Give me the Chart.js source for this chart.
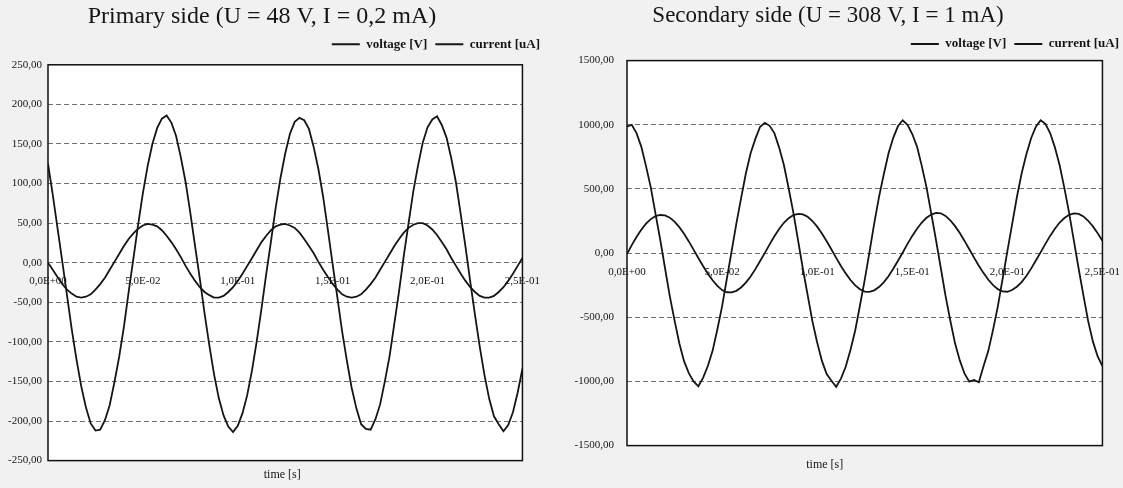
<!DOCTYPE html>
<html>
<head>
<meta charset="utf-8">
<script src="https://cdn.jsdelivr.net/npm/chart.js@4.4.1/dist/chart.umd.min.js"></script>
<style>
  html, body { margin: 0; padding: 0; background: #f1f1f1; }
  #wrap { position: relative; width: 1123px; height: 488px; overflow: hidden; }
  .box { position: absolute; top: 0; height: 488px; }
  #left { left: 0; width: 552px; }
  #right { left: 560px; width: 572px; }
</style>
</head>
<body>
<div id="wrap">
  <div class="box" id="left"><canvas id="primary"></canvas></div>
  <div class="box" id="right"><canvas id="secondary"></canvas></div>
</div>
<script>
// sample times [s], same grid for both measurements
const times = [0,0.0025,0.005,0.0075,0.01,0.0125,0.015,0.0175,0.02,0.0225,0.025,0.0275,0.03,0.0325,0.035,0.0375,0.04,0.0425,0.045,0.0475,
  0.05,0.0525,0.055,0.0575,0.06,0.0625,0.065,0.0675,0.07,0.0725,0.075,0.0775,0.08,0.0825,0.085,0.0875,0.09,0.0925,0.095,0.0975,
  0.1,0.1025,0.105,0.1075,0.11,0.1125,0.115,0.1175,0.12,0.1225,0.125,0.1275,0.13,0.1325,0.135,0.1375,0.14,0.1425,0.145,0.1475,
  0.15,0.1525,0.155,0.1575,0.16,0.1625,0.165,0.1675,0.17,0.1725,0.175,0.1775,0.18,0.1825,0.185,0.1875,0.19,0.1925,0.195,0.1975,
  0.2,0.2025,0.205,0.2075,0.21,0.2125,0.215,0.2175,0.22,0.2225,0.225,0.2275,0.23,0.2325,0.235,0.2375,0.24,0.2425,0.245,0.2475,0.25];

const xTickLabels = ['0,0E+00', '5,0E-02', '1,0E-01', '1,5E-01', '2,0E-01', '2,5E-01'];
const seriesNames = ['voltage [V]', 'current [uA]'];

// primary side
const primaryVoltage = [125, 86, 44, 2, -41, -84, -122, -156, -183, -203,
  -212, -211, -199, -180, -151, -119, -81, -37, 5, 48,
  88, 122, 150, 170, 182, 186, 177, 160, 133, 102,
  63, 21, -20, -64, -104, -141, -171, -193, -207, -214,
  -206, -190, -167, -136, -99, -58, -14, 27, 70, 107,
  138, 163, 178, 183, 180, 169, 146, 118, 83, 41,
  -2, -44, -87, -124, -158, -184, -204, -210, -211, -198,
  -179, -150, -118, -77, -36, 9, 50, 90, 123, 152,
  171, 181, 185, 174, 158, 132, 101, 61, 20, -24,
  -66, -106, -142, -172, -194, -204, -213, -205, -189, -164,
  -134];
const primaryCurrent = [0, -9, -18, -27, -34, -39, -43, -44, -43, -40,
  -34, -27, -19, -9, 1, 11, 21, 30, 37, 43,
  47, 49, 48, 46, 41, 34, 26, 17, 7, -4,
  -14, -23, -31, -37, -41, -44, -44, -42, -37, -31,
  -23, -14, -4, 6, 16, 26, 34, 41, 46, 48,
  49, 47, 44, 38, 30, 21, 12, 1, -9, -18,
  -27, -34, -40, -43, -44, -43, -40, -34, -27, -19,
  -9, 1, 11, 21, 30, 38, 44, 48, 50, 50,
  47, 42, 35, 26, 17, 6, -4, -14, -23, -31,
  -37, -42, -44, -44, -42, -37, -31, -23, -14, -4,
  6];

// secondary side
const secondaryVoltage = [985, 1000, 935, 830, 678, 512, 305, 102, -118, -335,
  -524, -702, -842, -935, -1000, -1038, -972, -880, -762, -595,
  -415, -200, 14, 230, 428, 620, 778, 890, 985,
  1015, 992, 935, 822, 686, 505, 314, 95, -124, -328,
  -532, -696, -840, -942, -995, -1042, -978, -886, -755, -603,
  -408, -209, 8, 232, 436, 612, 776, 898, 990,
  1035, 1000, 928, 830, 680, 512, 308, 100, -116, -334,
  -525, -703, -836, -940, -1002, -988, -1006, -880, -762, -596,
  -415, -202, 13, 224, 435, 620, 770, 895, 985,
  1035, 1008, 936, 824, 684, 506, 312, 96, -122, -330,
  -530, -690, -805, -880];
const secondaryCurrent = [-8, 62, 126, 182, 230, 265, 288, 297, 294, 276,
  245, 202, 150, 91, 27, -38, -101, -160, -212, -255,
  -288, -305, -306, -294, -268, -230, -182, -125, -62,
  2, 68, 131, 188, 236, 272, 296, 306, 302, 283,
  250, 206, 153, 92, 28, -37, -100, -158, -210, -252,
  -282, -300, -302, -290, -265, -228, -180, -122, -60,
  5, 72, 134, 190, 238, 275, 300, 314, 310, 290,
  256, 210, 156, 95, 30, -35, -98, -156, -208, -250,
  -281, -299, -301, -288, -262, -226, -178, -121, -58,
  6, 72, 134, 190, 238, 273, 298, 310, 305, 286,
  252, 208, 155, 96];

const serif = 'Liberation Serif';
const ink = '#151515';

// white plot area + black frame like the excel chart
const frame = {
  id: 'frame',
  beforeDraw(chart) {
    const a = chart.chartArea, ctx = chart.ctx;
    ctx.save();
    ctx.fillStyle = '#ffffff';
    ctx.fillRect(a.left, a.top, a.right - a.left, a.bottom - a.top);
    ctx.restore();
  },
  afterDraw(chart) {
    const a = chart.chartArea, ctx = chart.ctx;
    ctx.save();
    ctx.strokeStyle = '#111';
    ctx.lineWidth = 1.5;
    ctx.strokeRect(a.left, a.top, a.right - a.left, a.bottom - a.top);
    ctx.restore();
  }
};

// legend, title and axis title are not centred on the plot in the original
const nudge = {
  id: 'nudge',
  afterLayout(chart, args, opts) {
    const lg = chart.legend;
    lg.left += opts.dx; lg.right += opts.dx;
    lg.top += opts.dy; lg.bottom += opts.dy;
    const t = chart.scales.x2;
    t.left += opts.timeDx; t.right += opts.timeDx;
    const tb = chart.titleBlock;
    tb.left += opts.titleDx; tb.right += opts.titleDx;
  }
};

function makeChart(canvasId, cfg) {
  const line = (label, values) => ({
    label: label,
    data: times.map((t, i) => ({ x: t, y: values[i] })),
    xAxisID: 'x',
    yAxisID: 'y',
    borderColor: ink,
    backgroundColor: ink,
    borderWidth: 1.8,
    pointRadius: 0,
    tension: 0
  });

  return new Chart(document.getElementById(canvasId), {
    type: 'line',
    data: {
      datasets: [line(seriesNames[0], cfg.voltage), line(seriesNames[1], cfg.current)]
    },
    options: {
      responsive: true,
      maintainAspectRatio: false,
      animation: false,
      events: [],
      layout: { padding: { left: 0, right: cfg.padRight, top: 0, bottom: cfg.padBottom } },
      plugins: {
        title: {
          display: true,
          text: cfg.title,
          color: ink,
          font: { family: serif, size: cfg.titleSize, weight: 'normal' },
          padding: { top: 2, bottom: cfg.titleGap }
        },
        legend: {
          position: 'top',
          align: 'end',
          labels: {
            color: ink,
            font: { family: serif, size: 13, weight: 'bold' },
            boxWidth: 28,
            boxHeight: 2,
            padding: 8,
            generateLabels: chart => Chart.defaults.plugins.legend.labels.generateLabels(chart)
              .map(l => Object.assign(l, { lineWidth: 0 }))
          }
        },
        tooltip: { enabled: false },
        nudge: { dx: cfg.legendDx, dy: cfg.legendDy, timeDx: cfg.timeDx, titleDx: cfg.titleDx }
      },
      scales: {
        x: {
          type: 'linear',
          position: { y: 0 },
          min: 0,
          max: 0.25,
          grid: { display: false, drawTicks: false },
          border: { display: false },
          ticks: {
            stepSize: 0.05,
            autoSkip: false,
            maxRotation: 0,
            padding: 12,
            color: ink,
            font: { family: serif, size: 11 },
            callback: (v, i) => xTickLabels[i]
          }
        },
        x2: {
          type: 'linear',
          axis: 'x',
          position: 'bottom',
          min: 0,
          max: 0.25,
          grid: { display: false, drawTicks: false },
          border: { display: false },
          ticks: { display: false },
          title: {
            display: true,
            text: 'time [s]',
            color: ink,
            font: { family: serif, size: 12 },
            padding: { top: cfg.timeGap, bottom: 2 }
          }
        },
        y: {
          min: cfg.yMin,
          max: cfg.yMax,
          afterFit: s => { s.width = cfg.yWidth; },
          grid: { color: '#707070', lineWidth: 1, drawTicks: false },
          border: { display: false, dash: [5, 3] },
          ticks: {
            stepSize: cfg.yStep,
            padding: cfg.yPad,
            color: ink,
            font: { family: serif, size: 11 },
            callback: v => v.toFixed(2).replace('.', ',')
          }
        }
      }
    },
    plugins: [frame, nudge]
  });
}

makeChart('primary', {
  title: 'Primary side (U = 48 V, I = 0,2 mA)',
  titleSize: 24,
  voltage: primaryVoltage,
  current: primaryCurrent,
  yMin: -250, yMax: 250, yStep: 50,
  yWidth: 48, yPad: 6,
  padRight: 28, padBottom: 4,
  titleGap: 3, timeGap: 7,
  legendDx: 24, legendDy: -4, timeDx: -3, titleDx: 0
});

makeChart('secondary', {
  title: 'Secondary side (U = 308 V, I = 1 mA)',
  titleSize: 23,
  voltage: secondaryVoltage,
  current: secondaryCurrent,
  yMin: -1500, yMax: 1500, yStep: 500,
  yWidth: 67, yPad: 13,
  padRight: 12, padBottom: 14,
  titleGap: 0, timeGap: 12,
  legendDx: 7, legendDy: 0, timeDx: -40, titleDx: -12
});
</script>
</body>
</html>
